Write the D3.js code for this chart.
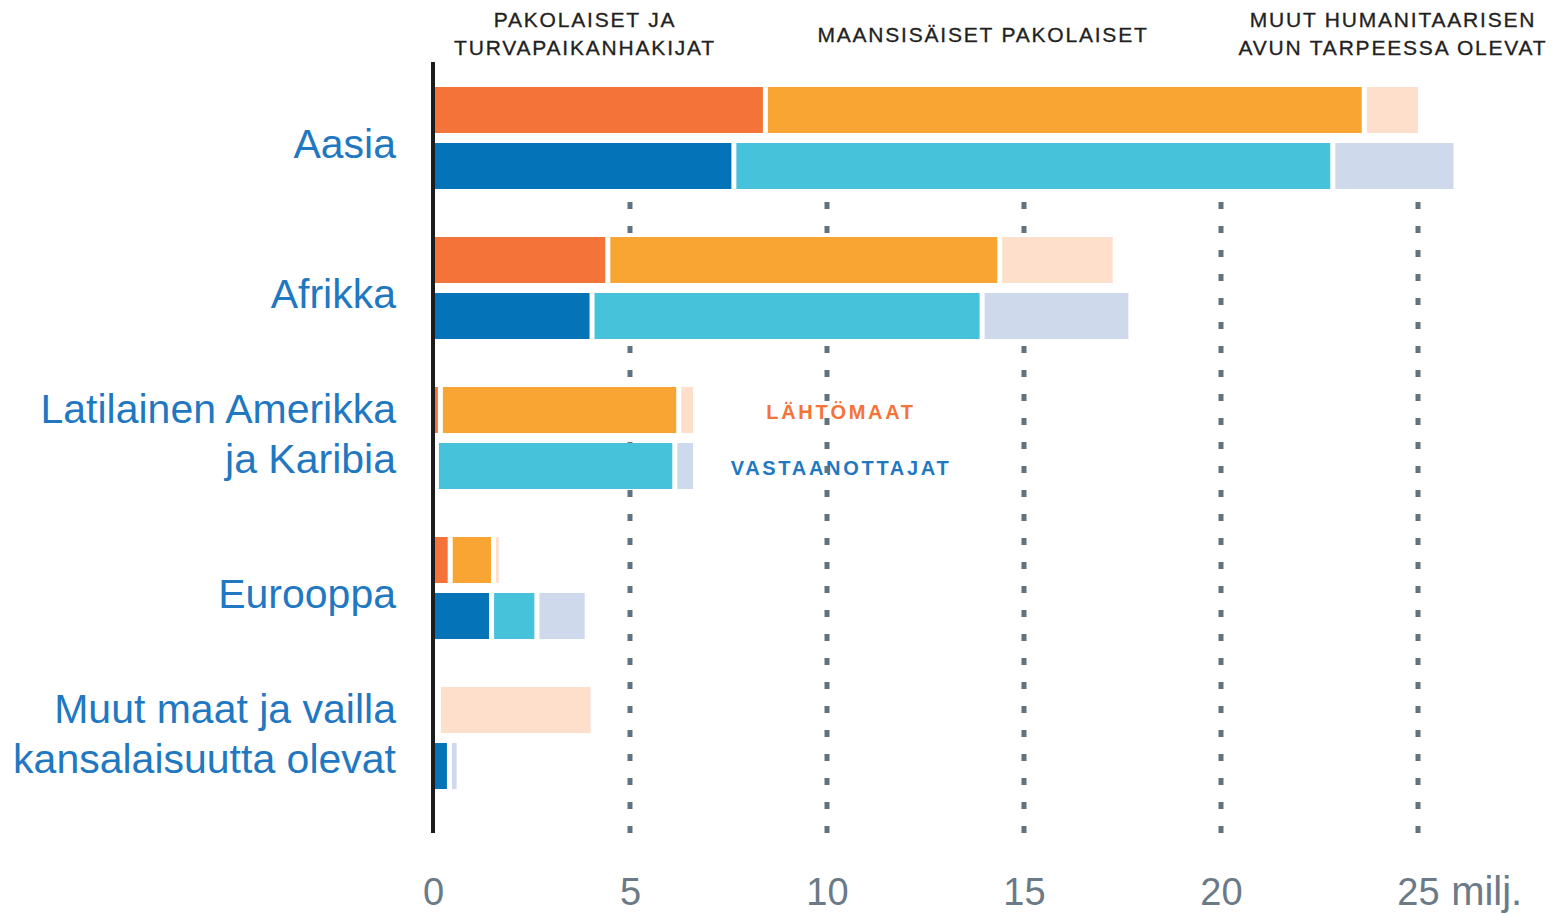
<!DOCTYPE html>
<meta charset="utf-8">
<head>
<style>
body { margin: 0; background: #fff; }
svg { display: block; font-family: "Liberation Sans", Arial, sans-serif; }
.region { fill: #1f78c1; font-size: 41px; }
.head { fill: #222; font-size: 21px; letter-spacing: 1.8px; stroke: #222; stroke-width: 0.3px; }
.legend { font-size: 20px; font-weight: bold; letter-spacing: 2.7px; }
.grid line { stroke: #617280; stroke-width: 5px; stroke-dasharray: 7,17; }
.axis text { fill: #6b7a86; font-size: 38px; font-family: "Liberation Sans", Arial, sans-serif; }
</style>
</head>
<body>
<svg width="1559" height="915"></svg>
<script src="https://cdn.jsdelivr.net/npm/d3@7"></script>
<script>
// regions (label lines)
var regions = ["Aasia", "Afrikka", "Latilainen Amerikka|ja Karibia", "Eurooppa", "Muut maat ja vailla|kansalaisuutta olevat"];

// millions: countries of origin (lähtömaat)
var originRefugees = [8.5, 4.5, 0.25, 0.5, 0.1],
    originIdp      = [15.2, 9.95, 6.05, 1.1, 0.1],
    originOther    = [1.3, 2.8, 0.3, 0.07, 3.8];

// millions: receiving countries (vastaanottajat)
var hostRefugees = [7.7, 4.1, 0.15, 1.55, 0.48],
    hostIdp      = [15.2, 9.9, 6.05, 1.15, 0],
    hostOther    = [3.0, 3.65, 0.4, 1.15, 0.12];

var ticks = [0, 5, 10, 15, 20, 25];

var originColors = ["#f37338", "#f9a533", "#fddfcb"],
    hostColors   = ["#0573b8", "#46c2da", "#cfd9ec"];

var svg = d3.select("svg");

var x = d3.scaleLinear().domain([0, 25]).range([433, 1418]);
var y = d3.scaleBand().domain(regions).range([63, 813]);

var barH = 46, innerGap = 10, segGap = 5;

// legend (grid dots run over it)
svg.append("text").attr("class", "legend").attr("fill", "#f37338")
  .attr("text-anchor", "middle").attr("x", 841).attr("y", 419).text("LÄHTÖMAAT");
svg.append("text").attr("class", "legend").attr("fill", "#1f78c1")
  .attr("text-anchor", "middle").attr("x", 841).attr("y", 475).text("VASTAANOTTAJAT");

// dotted grid
svg.append("g").attr("class", "grid")
  .selectAll("line").data(ticks.slice(1)).enter().append("line")
    .attr("x1", x).attr("x2", x)
    .attr("y1", 202).attr("y2", 836);

// stacked bars
function drawRow(series, colors, offset) {
  regions.forEach(function(r, i) {
    var vals = series.map(function(s) { return s[i]; });
    var start = 0;
    vals.forEach(function(v, k) {
      if (v <= 0) return;
      var later = vals.slice(k + 1).some(function(w) { return w > 0; });
      var x0 = x(start), x1 = x(start + v) - (later ? segGap : 0);
      start += v;
      if (x1 - x0 <= 0) return;
      svg.append("rect")
        .attr("x", x0)
        .attr("y", y(r) + y.bandwidth() / 2 + offset)
        .attr("width", x1 - x0)
        .attr("height", barH)
        .attr("fill", colors[k]);
    });
  });
}
drawRow([originRefugees, originIdp, originOther], originColors, -innerGap / 2 - barH);
drawRow([hostRefugees, hostIdp, hostOther], hostColors, innerGap / 2);

// vertical axis line
svg.append("line")
  .attr("x1", x(0)).attr("x2", x(0))
  .attr("y1", 62).attr("y2", 833)
  .attr("stroke", "#1c1c1c").attr("stroke-width", 4);

// region labels
regions.forEach(function(r) {
  var lines = r.split("|"),
      c = y(r) + y.bandwidth() / 2;
  var t = svg.append("text").attr("class", "region").attr("text-anchor", "end");
  lines.forEach(function(l, j) {
    t.append("tspan").attr("x", 396)
      .attr("y", lines.length == 1 ? c + 20 : c - 15 + j * 50)
      .text(l);
  });
});

// column headers
var heads = [
  {lines: ["PAKOLAISET JA", "TURVAPAIKANHAKIJAT"], cx: 585, y0: 27},
  {lines: ["MAANSISÄISET PAKOLAISET"], cx: 983, y0: 42},
  {lines: ["MUUT HUMANITAARISEN", "AVUN TARPEESSA OLEVAT"], cx: 1393, y0: 27}
];
heads.forEach(function(h) {
  var t = svg.append("text").attr("class", "head").attr("text-anchor", "middle");
  h.lines.forEach(function(l, j) {
    t.append("tspan").attr("x", h.cx).attr("y", h.y0 + j * 28).text(l);
  });
});

// x axis
var ax = svg.append("g").attr("class", "axis")
  .attr("transform", "translate(0,905)")
  .call(d3.axisBottom(x).tickValues(ticks).tickSize(0).tickFormat(d3.format("d")));
ax.select(".domain").remove();
ax.selectAll("text").attr("y", 0).attr("dy", 0);

var last = ax.selectAll(".tick text").filter(function(d) { return d == 25; });
var w = last.node().getComputedTextLength();
ax.append("text")
  .attr("x", x(25) + w / 2 + 12).attr("y", 0)
  .attr("text-anchor", "start")
  .style("font-size", "40px")
  .text("milj.");
</script>
</body>
</html>
